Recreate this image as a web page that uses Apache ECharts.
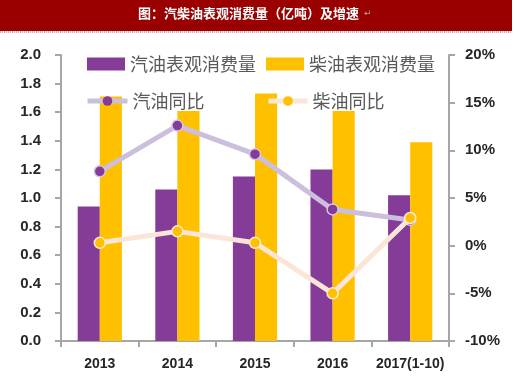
<!DOCTYPE html>
<html><head><meta charset="utf-8">
<script src="https://cdn.jsdelivr.net/npm/echarts@6/dist/echarts.min.js"></script>
<style>html,body{margin:0;padding:0;background:#fff}#c{width:520px;height:392px}</style>
</head><body><div id="c"></div>
<script>
var titleText = '图：汽柴油表观消费量（亿吨）及增速';
var categories = ['2013', '2014', '2015', '2016', '2017(1-10)'];
var gasolineVolume = [0.94, 1.06, 1.15, 1.20, 1.02];
var dieselVolume = [1.71, 1.74, 1.73, 1.65, 1.39];
var gasolineYoY = [7.8, 12.6, 9.6, 3.8, 2.7];
var dieselYoY = [0.3, 1.5, 0.3, -5.0, 2.9];
var seriesNames = ['汽油表观消费量', '柴油表观消费量', '汽油同比', '柴油同比'];

var purple = '#843C98', gold = '#FFC000';
var purpleLine = '#CBBFDD', goldLine = '#FBE5D6';
var axisColor = '#A6A6A6';
var labelColor = '#262626';

var chart = echarts.init(document.getElementById('c'));
function legendItem(name, left, top, w, h, isLine, lineColor) {
  var l = {
    data: [name], left: left, top: top, orient: 'horizontal', padding: 0,
    itemWidth: w, itemHeight: h, itemGap: 0, selectedMode: false,
    textStyle: { fontSize: 18, color: '#595959', fontFamily: 'Noto Sans CJK SC', backgroundColor: '#fff', padding: [1, 0, 1, 0] }
  };
  if (!isLine) { l.icon = 'rect'; }
  else { l.lineStyle = { width: 5, color: lineColor }; l.itemStyle = { borderWidth: 0 }; }
  return l;
}
chart.setOption({
  animation: false,
  graphic: [
    { type: 'rect', shape: { x: 0, y: 0, width: 512, height: 31 }, style: { fill: '#9A0000' }, z: 0 },
    { type: 'line', shape: { x1: 0, y1: 32, x2: 512, y2: 32 }, style: { stroke: '#C04040', lineWidth: 1, lineDash: [1, 1] } },
    { type: 'text', left: 138, top: 7, style: { text: titleText, fill: '#fff', font: 'bold 13px "Noto Sans CJK SC"' }, z: 10 },
    { type: 'text', left: 364, top: 9, style: { text: '↵', fill: '#c8a0a0', font: '9px "DejaVu Sans"' }, z: 10 }
  ],
  legend: [
    legendItem(seriesNames[0], 87, 54, 38, 13, false),
    legendItem(seriesNames[1], 266, 54, 38, 13, false),
    legendItem(seriesNames[2], 85, 91, 40, 12, true, purpleLine),
    legendItem(seriesNames[3], 266, 91, 39, 12, true, goldLine)
  ],
  grid: { left: 61, right: 71, top: 55, bottom: 51 },
  xAxis: {
    type: 'category', data: categories,
    axisLine: { lineStyle: { color: axisColor, width: 2 } },
    axisTick: { show: true, length: 6, lineStyle: { color: axisColor, width: 2 } },
    axisLabel: { color: labelColor, fontSize: 14, fontWeight: 'bold', margin: 16, interval: 0, fontFamily: 'Liberation Sans' }
  },
  yAxis: [
    {
      type: 'value', min: 0, max: 2, interval: 0.2,
      axisLine: { show: true, lineStyle: { color: axisColor, width: 2 } },
      axisTick: { show: true, length: 6, lineStyle: { color: axisColor, width: 2 } },
      splitLine: { show: false },
      axisLabel: { color: labelColor, fontSize: 15, fontWeight: 'bold', margin: 20, fontFamily: 'Liberation Sans',
        formatter: function (v) { return v.toFixed(1); } }
    },
    {
      type: 'value', min: -10, max: 20, interval: 5, position: 'right',
      axisLine: { show: true, lineStyle: { color: axisColor, width: 2 } },
      axisTick: { show: true, length: 6, lineStyle: { color: axisColor, width: 2 } },
      splitLine: { show: false },
      axisLabel: { color: labelColor, fontSize: 15, fontWeight: 'bold', margin: 16, fontFamily: 'Liberation Sans',
        formatter: '{value}%' }
    }
  ],
  series: [
    { name: seriesNames[0], type: 'bar', data: gasolineVolume, barGap: '0%', barCategoryGap: '43%',
      itemStyle: { color: purple }, z: 2 },
    { name: seriesNames[1], type: 'bar', data: dieselVolume, barGap: '0%', barCategoryGap: '43%',
      itemStyle: { color: gold }, z: 2 },
    { name: seriesNames[2], type: 'line', yAxisIndex: 1, data: gasolineYoY,
      symbol: 'circle', symbolSize: 11,
      lineStyle: { color: purpleLine, width: 5 },
      itemStyle: { color: purple, borderColor: '#D5C6E4', borderWidth: 1.5 }, z: 3 },
    { name: seriesNames[3], type: 'line', yAxisIndex: 1, data: dieselYoY,
      symbol: 'circle', symbolSize: 11,
      lineStyle: { color: goldLine, width: 5 },
      itemStyle: { color: gold, borderColor: '#FDEBDC', borderWidth: 1.5 }, z: 4 }
  ]
});
</script></body></html>
